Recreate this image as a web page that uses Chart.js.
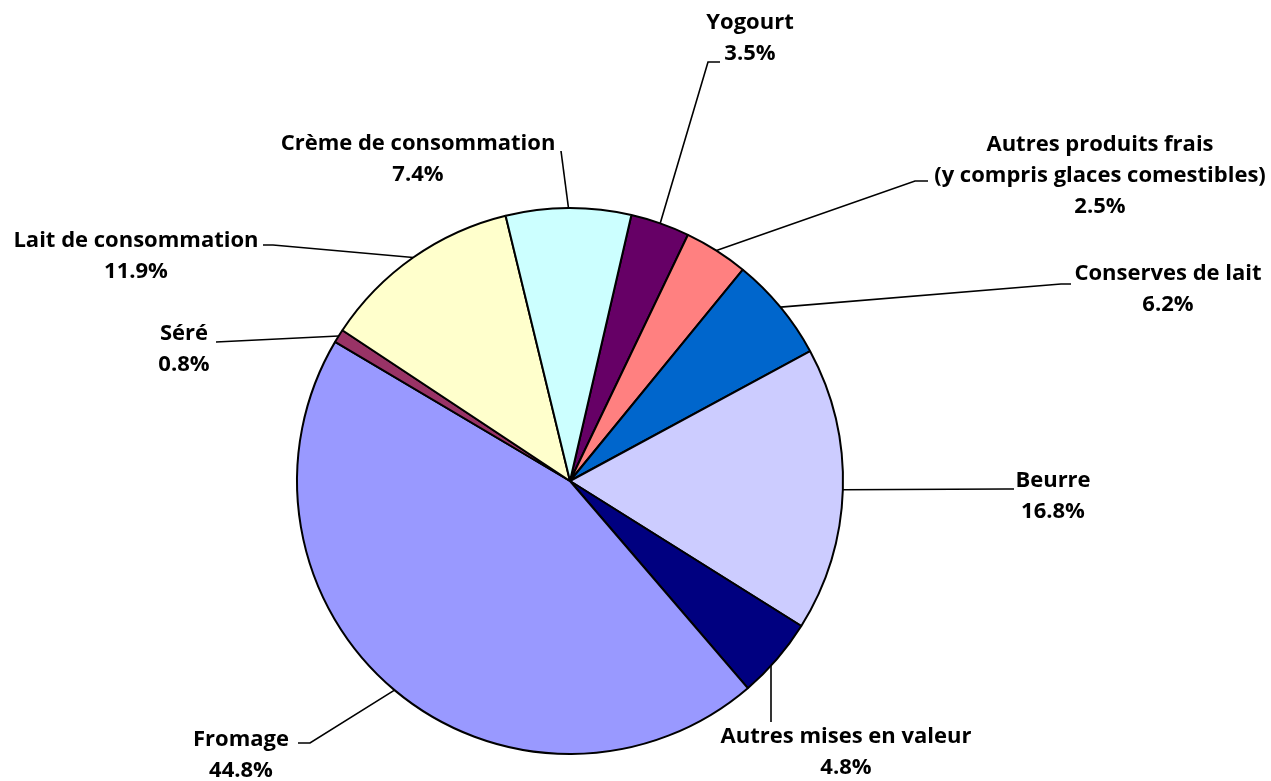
<!DOCTYPE html>
<html>
<head>
<meta charset="utf-8">
<script src="https://cdn.jsdelivr.net/npm/chart.js@4"></script>
<style>
  html, body { margin: 0; padding: 0; background: #fff; }
  #wrap { width: 1271px; height: 781px; position: relative; }
</style>
</head>
<body>
<div id="wrap"><canvas id="pieChart"></canvas></div>
<script>
// Data (clockwise, starting with Yogourt)
const categories = [
    ['Yogourt'],
    ['Autres produits frais', '(y compris glaces comestibles)'],
    ['Conserves de lait'],
    ['Beurre'],
    ['Autres mises en valeur'],
    ['Fromage'],
    ['Séré'],
    ['Lait de consommation'],
    ['Crème de consommation']
];
const shares = [3.5, 3.8, 6.2, 16.8, 4.8, 44.8, 0.8, 11.9, 7.4];
const shareLabels = ['3.5%', '2.5%', '6.2%', '16.8%', '4.8%', '44.8%', '0.8%', '11.9%', '7.4%'];
const sliceColors = ['#660066', '#FF8080', '#0066CC', '#CCCCFF', '#000080', '#9999FF', '#993366', '#FFFFCC', '#CCFFFF'];

// Label placement: text centre x, first line centre y, leader bend points
// (vertical: leader leaves the pie straight down at the first point's x)
const labelLayout = [
    { x: 750, y: 23, pts: [[708, 62], [720, 62]] },
    { x: 1100, y: 145, pts: [[915, 181], [928, 181]] },
    { x: 1168, y: 274, pts: [[1061, 284], [1071, 284]] },
    { x: 1053, y: 481, pts: [[1006, 489], [1014, 489]] },
    { x: 846, y: 737, pts: [[771, 722]], vertical: true },
    { x: 241, y: 740, pts: [[310, 743], [298, 743]] },
    { x: 184, y: 334, pts: [[216, 342]] },
    { x: 136, y: 241, pts: [[273, 245], [263, 245]] },
    { x: 418, y: 144, pts: [[561, 151]] }
];
const LINE_H = 31;

// Draw labels with leader lines
const leaderLabels = {
    id: 'leaderLabels',
    afterDraw(chart) {
        const ctx = chart.ctx;
        const arcs = chart.getDatasetMeta(0).data;
        ctx.save();
        ctx.strokeStyle = '#000';
        ctx.lineWidth = 1.6;
        arcs.forEach((arc, i) => {
            const lay = labelLayout[i];
            let sx, sy;
            if (lay.vertical) {
                sx = lay.pts[0][0];
                sy = arc.y + Math.sqrt(Math.max(arc.outerRadius ** 2 - (sx - arc.x) ** 2, 0));
            } else {
                const mid = (arc.startAngle + arc.endAngle) / 2;
                sx = arc.x + Math.cos(mid) * arc.outerRadius;
                sy = arc.y + Math.sin(mid) * arc.outerRadius;
            }
            ctx.beginPath();
            ctx.moveTo(sx, sy);
            lay.pts.forEach(p => ctx.lineTo(p[0], p[1]));
            ctx.stroke();
        });
        ctx.fillStyle = '#000';
        ctx.font = 'bold 22px "Open Sans", Lato, sans-serif';
        ctx.textAlign = 'center';
        ctx.textBaseline = 'middle';
        categories.forEach((lines, i) => {
            const lay = labelLayout[i];
            const all = lines.concat([shareLabels[i]]);
            all.forEach((t, k) => ctx.fillText(t, lay.x, lay.y + k * LINE_H));
        });
        ctx.restore();
    }
};

const ctx = document.getElementById('pieChart').getContext('2d');
const pieChart = new Chart(ctx, {
    type: 'pie',
    data: {
        labels: categories.map(l => l.join(' ')),
        datasets: [{
            data: shares,
            backgroundColor: sliceColors,
            borderColor: '#000',
            borderWidth: 2
        }]
    },
    options: {
        responsive: true,
        maintainAspectRatio: false,
        animation: false,
        rotation: 13,
        layout: {
            padding: { left: 296, right: 427, top: 207, bottom: 26 }
        },
        plugins: {
            legend: { display: false },
            tooltip: { enabled: false }
        }
    },
    plugins: [leaderLabels]
});
</script>
</body>
</html>
